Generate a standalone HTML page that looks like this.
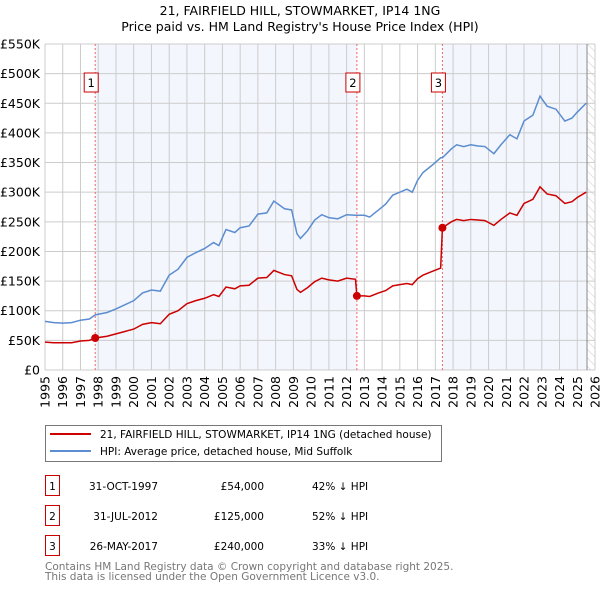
<!DOCTYPE html>
<html><head><meta charset="utf-8"><style>
body{margin:0;background:#fff;font-family:"DejaVu Sans","Liberation Sans",sans-serif;}
svg text{font-family:"DejaVu Sans","Liberation Sans",sans-serif;}
</style></head><body>
<svg id="c" width="600" height="590" xmlns="http://www.w3.org/2000/svg"></svg>
<script>
const years=[1995.0,1995.5,1996.0,1996.5,1997.0,1997.5,1997.83,1998.5,1999.0,1999.5,2000.0,2000.5,2001.0,2001.5,2002.0,2002.5,2003.0,2003.5,2004.0,2004.5,2004.8,2005.2,2005.7,2006.0,2006.5,2007.0,2007.5,2007.9,2008.5,2008.9,2009.2,2009.4,2009.8,2010.2,2010.6,2011.0,2011.5,2012.0,2012.5,2012.58,2013.0,2013.3,2013.8,2014.2,2014.6,2015.0,2015.4,2015.7,2016.0,2016.3,2016.8,2017.3,2017.4,2017.9,2018.2,2018.6,2019.0,2019.4,2019.8,2020.3,2020.7,2021.2,2021.6,2022.0,2022.5,2022.9,2023.3,2023.8,2024.3,2024.7,2025.0,2025.5];
const hpiValues=[82,80,79,80,84,86,93,97,103,110,117,130,135,133,160,170,190,198,205,215,210,237,232,240,243,263,265,285,272,270,230,222,235,253,262,257,255,262,261,261,261,258,270,280,295,300,305,300,320,333,345,358,358,373,380,377,380,378,377,365,380,397,390,420,430,462,445,440,420,425,435,450];
const priceValues=[47,46,46,46,49,50,54,57,61,65,69,77,80,78,94,100,112,117,121,127,124,140,137,142,143,155,156,168,161,159,136,131,139,149,155,152,150,155,153,125,125,124,130,134,142,144,146,144,154,160,166,172,240,250,254,252,254,253,252,244,254,265,261,281,288,309,297,294,281,284,291,300];
const saleYears=[1997.83,2012.58,2017.4];
const saleValues=[54,125,240];
const saleLabels=["1","2","3"];
const yTicks=[0,50,100,150,200,250,300,350,400,450,500,550];
const yTickLabels=["£0","£50K","£100K","£150K","£200K","£250K","£300K","£350K","£400K","£450K","£500K","£550K"];
const xTicks=[1995,1996,1997,1998,1999,2000,2001,2002,2003,2004,2005,2006,2007,2008,2009,2010,2011,2012,2013,2014,2015,2016,2017,2018,2019,2020,2021,2022,2023,2024,2025,2026];

const NS="http://www.w3.org/2000/svg";
const svg=document.getElementById('c');
const L=45,R=595,T=44,B=370;
const xs=y=>L+(y-1995)/(2026-1995)*(R-L);
const ys=v=>B-v/550*(B-T);
function el(tag,attrs,parent){const e=document.createElementNS(NS,tag);for(const k in attrs)e.setAttribute(k,attrs[k]);(parent||svg).appendChild(e);return e;}
function tx(x,y,s,attrs){const e=el('text',Object.assign({x:x,y:y},attrs||{}));e.textContent=s;return e;}

const defs=el('defs',{});
const pat=el('pattern',{id:'hatch',width:6,height:6,patternUnits:'userSpaceOnUse',patternTransform:'rotate(-45)'},defs);
el('line',{x1:0,y1:0,x2:0,y2:6,stroke:'#ccc','stroke-width':1},pat);

let t=tx(300,15,"21, FAIRFIELD HILL, STOWMARKET, IP14 1NG",{'text-anchor':'middle','font-size':12.5,fill:'#000'});

t=tx(300,31,"Price paid vs. HM Land Registry's House Price Index (HPI)",{'text-anchor':'middle','font-size':12.5,fill:'#000'});


let r=el('rect',{x:xs(saleYears[0]),y:T,width:xs(saleYears[1])-xs(saleYears[0]),height:B-T,fill:'#f3f6fd'});

r=el('rect',{x:xs(saleYears[2]),y:T,width:xs(2025.55)-xs(saleYears[2]),height:B-T,fill:'#f3f6fd'});

r=el('rect',{x:xs(2025.55),y:T,width:R-xs(2025.55),height:B-T,fill:'url(#hatch)'});


for(const v of yTicks){const g=el('line',{x1:L,x2:R,y1:ys(v),y2:ys(v),stroke:'#ccc','stroke-width':1});
}
for(const y of xTicks){const g=el('line',{x1:xs(y),x2:xs(y),y1:T,y2:B,stroke:'#ccc','stroke-width':1});
}
let vl=el('line',{x1:xs(2025.55),x2:xs(2025.55),y1:T,y2:B,stroke:'#888','stroke-width':1});


yTicks.forEach((v,i)=>{const e=tx(40,ys(v)+4.5,yTickLabels[i],{'text-anchor':'end','font-size':12.5,fill:'#000'});
});
xTicks.forEach(y=>{const x=xs(y)+4.5,yy=376;const e=tx(x,yy,String(y),{'text-anchor':'end','font-size':12.5,fill:'#000',transform:`rotate(-90 ${x} ${yy})`});
});

saleYears.forEach((y,i)=>{const x=xs(y);
const l=el('line',{x1:x,x2:x,y1:T,y2:B,stroke:'#e44','stroke-width':1,'stroke-dasharray':'2,2',opacity:0.8});

const b=el('rect',{x:x-11,y:73,width:14,height:19,fill:'#fff',stroke:'#c00','stroke-width':1});

const s=tx(x-4,87,saleLabels[i],{'text-anchor':'middle','font-size':11.5,fill:'#000'});
});

let hp=el('polyline',{points:years.map((y,i)=>xs(y)+','+ys(hpiValues[i])).join(' '),fill:'none',stroke:'#5b8dd0','stroke-width':1.5});

let pp=el('polyline',{points:years.map((y,i)=>xs(y)+','+ys(priceValues[i])).join(' '),fill:'none',stroke:'#cc0000','stroke-width':1.5});

saleYears.forEach((y,i)=>{const c=el('circle',{cx:xs(y),cy:ys(saleValues[i]),r:4,fill:'#cc0000'});
});

let lg=el('rect',{x:45.5,y:425.5,width:396,height:36,fill:'#fff',stroke:'#777','stroke-width':1});

let ll=el('line',{x1:50,x2:91,y1:434,y2:434,stroke:'#cc0000','stroke-width':2});

t=tx(100,438,"21, FAIRFIELD HILL, STOWMARKET, IP14 1NG (detached house)",{'font-size':10.5,fill:'#000'});

ll=el('line',{x1:50,x2:91,y1:451,y2:451,stroke:'#5b8dd0','stroke-width':2});

t=tx(100,455,"HPI: Average price, detached house, Mid Suffolk",{'font-size':10.5,fill:'#000'});


const rows=[["31-OCT-1997","£54,000","42% ↓ HPI"],["31-JUL-2012","£125,000","52% ↓ HPI"],["26-MAY-2017","£240,000","33% ↓ HPI"]];
rows.forEach((rw,i)=>{const y0=476+i*30;
const b=el('rect',{x:45.5,y:y0-0.5,width:14,height:20,fill:'#fff',stroke:'#c00','stroke-width':1});

let e=tx(52.5,y0+14,String(i+1),{'text-anchor':'middle','font-size':10.5});
e=tx(158,y0+14,rw[0],{'text-anchor':'end','font-size':10.5});
e=tx(264,y0+14,rw[1],{'text-anchor':'end','font-size':10.5});
e=tx(312,y0+14,rw[2],{'font-size':10.5});});

t=tx(45,570,"Contains HM Land Registry data © Crown copyright and database right 2025.",{'font-size':10.5,fill:'#777'});

t=tx(45,580,"This data is licensed under the Open Government Licence v3.0.",{'font-size':10.5,fill:'#777'});

</script>
</body></html>
